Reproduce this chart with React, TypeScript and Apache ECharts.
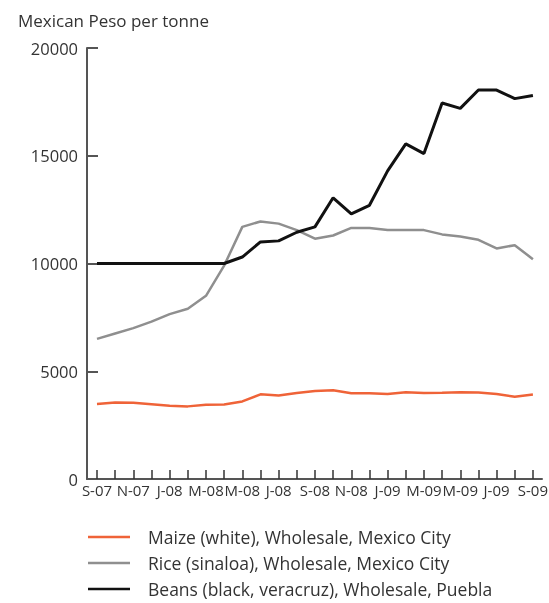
import React, { useEffect, useRef } from "react";
import * as echarts from "echarts";

const months: string[] = [
  "S-07", "O-07", "N-07", "D-07", "J-08", "F-08", "M-08", "A-08", "M-08", "J-08", "J-08", "A-08",
  "S-08", "O-08", "N-08", "D-08", "J-09", "F-09", "M-09", "A-09", "M-09", "J-09", "J-09", "A-09", "S-09",
];
const maize: number[] = [
  3480, 3550, 3540, 3470, 3400, 3370, 3450, 3460, 3600, 3930, 3880, 3990,
  4080, 4120, 3980, 3980, 3940, 4020, 3990, 4000, 4030, 4010, 3940, 3820, 3920,
];
const rice: number[] = [
  6500, 6750, 7000, 7300, 7650, 7900, 8500, 9900, 11700, 11950, 11850, 11550,
  11150, 11300, 11650, 11650, 11550, 11550, 11550, 11350, 11250, 11100, 10700, 10850, 10200,
];
const beans: number[] = [
  10000, 10000, 10000, 10000, 10000, 10000, 10000, 10000, 10300, 11000, 11050, 11450,
  11700, 13050, 12300, 12700, 14300, 15550, 15100, 17450, 17200, 18050, 18050, 17650, 17800,
];
const seriesNames: string[] = [
  "Maize (white), Wholesale, Mexico City",
  "Rice (sinaloa), Wholesale, Mexico City",
  "Beans (black, veracruz), Wholesale, Puebla",
];
const yTicks: number[] = [0, 5000, 10000, 15000, 20000];
const title = "Mexican Peso per tonne";

const FONT = "Open Sans";

export default function App() {
  const ref = useRef<HTMLDivElement>(null);
  useEffect(() => {
    if (!ref.current) return;
    const chart = echarts.init(ref.current, null, { renderer: "svg" });
    const tickIdx = months.map((_, i) => i);
    const labelIdx = tickIdx.filter((i) => i % 2 === 0);
    const toPairs = (arr: number[]) => arr.map((v, i) => [i, v]);
    const colors = ["#ef6338", "#8f8f8f", "#111111"];
    const widths = [2.5, 2.5, 3];
    const datasets = [maize, rice, beans];
    const legendCenters = [539, 565, 591];
    chart.setOption({
      animation: false,
      title: {
        text: title,
        left: 13,
        top: 7,
        textStyle: { fontFamily: FONT, fontSize: 17, fontWeight: "normal", color: "#333" },
      },
      grid: { left: 87, right: 7, top: 48, bottom: 124, containLabel: false, outerBoundsMode: "none" },
      xAxis: {
        type: "value",
        min: -0.55,
        max: 24.5,
        axisLine: { show: true, onZero: false, lineStyle: { color: "#555", width: 2 } },
        axisTick: {
          show: true,
          inside: true,
          length: 9,
          customValues: tickIdx,
          lineStyle: { color: "#333", width: 1.5 },
        },
        axisLabel: {
          customValues: labelIdx,
          formatter: (v: number) => months[Math.round(v)] ?? "",
          fontFamily: FONT,
          fontSize: 15,
          color: "#333",
          margin: 3,
          hideOverlap: false,
        },
        splitLine: { show: false },
      },
      yAxis: {
        type: "value",
        min: 0,
        max: 20000,
        interval: 5000,
        axisLine: { show: true, onZero: false, lineStyle: { color: "#555", width: 2 } },
        axisTick: {
          show: true,
          inside: true,
          length: 11,
          customValues: yTicks,
          lineStyle: { color: "#555", width: 2 },
        },
        axisLabel: {
          customValues: yTicks,
          formatter: (v: number) => String(v),
          fontFamily: FONT,
          fontSize: 16.5,
          color: "#333",
          margin: 9,
        },
        splitLine: { show: false },
      },
      legend: seriesNames.map((n, i) => ({
        orient: "vertical",
        left: 88,
        top: legendCenters[i] - 11,
        itemWidth: 42,
        itemHeight: 14,
        padding: 0,
        data: [
          {
            name: n,
            icon: "path://M0,0 L42,0 L42,2.6 L0,2.6 Z",
            itemStyle: { color: colors[i] },
          },
        ],
        textStyle: { fontFamily: FONT, fontSize: 17.5, color: "#333", padding: [0, 0, 0, 13] },
      })),
      series: datasets.map((d, i) => ({
        type: "line",
        name: seriesNames[i],
        data: toPairs(d),
        symbol: "none",
        showSymbol: false,
        color: colors[i],
        lineStyle: { color: colors[i], width: widths[i] },
        z: i + 2,
      })),
    });
    return () => chart.dispose();
  }, []);
  return (
    <div
      ref={ref}
      style={{ position: "fixed", left: 0, top: 0, width: 549, height: 603 }}
    />
  );
}
